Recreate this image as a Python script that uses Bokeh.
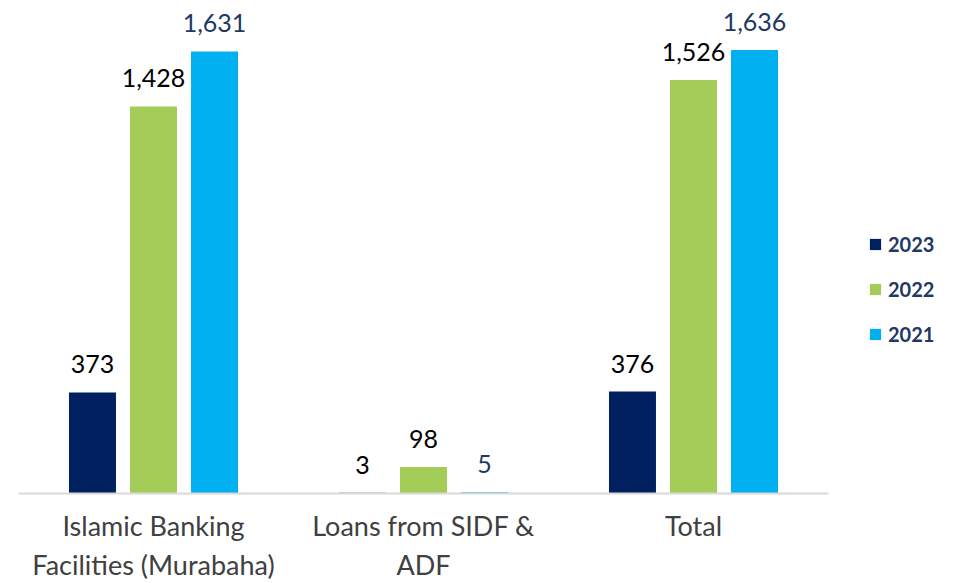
from bokeh.plotting import figure
from bokeh.models import ColumnDataSource, FactorRange, Range1d, Legend, LegendItem
from bokeh.transform import dodge
from bokeh.core.properties import value
from bokeh.embed import file_html
from bokeh.resources import INLINE

categories = ["Islamic Banking\nFacilities (Murabaha)", "Loans from SIDF &\nADF", "Total"]
years = ["2023", "2022", "2021"]
v2023 = [373, 3, 376]
v2022 = [1428, 98, 1526]
v2021 = [1631, 5, 1636]

colors = ["#002060", "#A3CD58", "#00B0F0"]
label_colors = ["#000000", "#000000", "#1F3864"]
offsets = [-0.226, 0.0, 0.226]

FONT = "Lato"

p = figure(frame_width=810, frame_height=483, x_range=FactorRange(*categories, range_padding=0),
           y_range=Range1d(0, 1782), output_backend="svg", toolbar_location=None,
           min_border_left=18, min_border_right=120, min_border_top=10, min_border_bottom=78)
p.outline_line_color = None
p.background_fill_color = None
p.border_fill_color = "white"
p.xgrid.visible = False
p.ygrid.visible = False
p.yaxis.visible = False

items = []
for yr, vals, col, lc, off in zip(years, [v2023, v2022, v2021], colors, label_colors, offsets):
    src = ColumnDataSource(dict(cat=categories, val=vals, lab=[f"{v:,}" for v in vals]))
    r = p.vbar(x=dodge("cat", off, range=p.x_range), top="val", width=0.174, source=src,
               fill_color=col, line_color=None)
    p.text(x=dodge("cat", off, range=p.x_range), y="val", text="lab", source=src,
           text_align="center", text_baseline="alphabetic", y_offset=-28,
           text_font=value(FONT), text_font_size="25px", text_color=lc)
    items.append(LegendItem(label=yr, renderers=[r]))

ax = p.xaxis[0]
ax.axis_line_color = "#D9D9D9"
ax.axis_line_width = 2
ax.major_tick_line_color = None
ax.minor_tick_line_color = None
ax.major_label_text_font = FONT
ax.major_label_text_font_size = "27px"
ax.major_label_text_color = "#404040"
ax.major_label_standoff = 9

legend = Legend(items=items, location=(40, 147), orientation="vertical",
                glyph_width=14, glyph_height=14, label_height=20, spacing=21,
                label_standoff=6, padding=0, margin=0,
                border_line_color=None, background_fill_color=None,
                label_text_font=FONT, label_text_font_size="20px",
                label_text_font_style="bold", label_text_color="#1F3864")
p.add_layout(legend, "right")

open("out.html", "w").write(file_html(p, INLINE))
